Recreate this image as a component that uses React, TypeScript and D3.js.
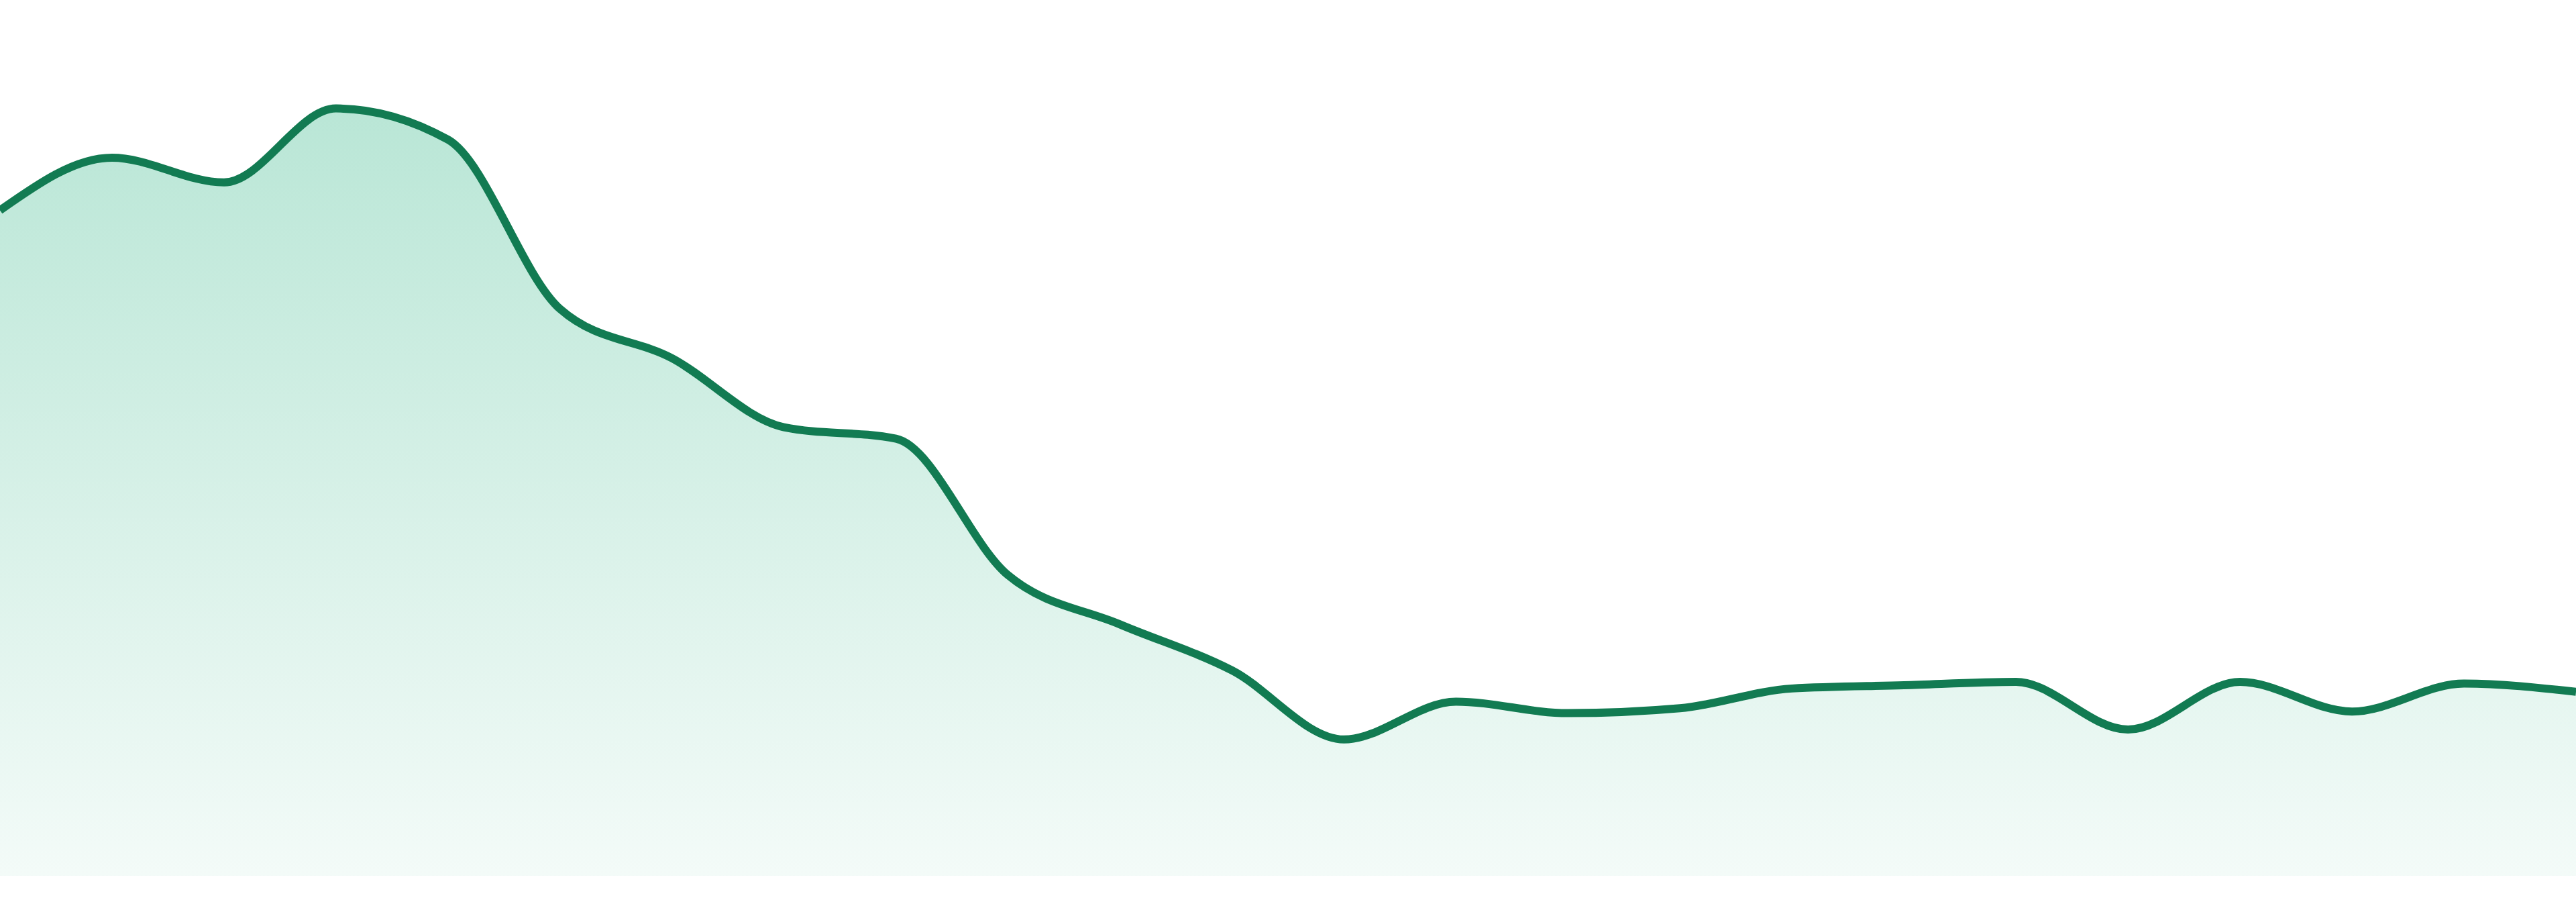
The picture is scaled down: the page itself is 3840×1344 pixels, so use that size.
import * as d3 from 'd3';
import { useEffect, useRef } from 'react';

// one point per period (height above baseline)
const periods = d3.range(24);
const values = [
  405, 437, 422, 467, 448, 345, 315, 273, 266, 183, 153, 125,
  83, 106, 99, 102, 114, 116, 118, 89, 118, 100, 117, 112,
];

const WIDTH = 3840;
const HEIGHT = 1344;

export default function App() {
  const svgRef = useRef<SVGSVGElement | null>(null);

  useEffect(() => {
    document.body.style.margin = '0';

    const svg = d3.select(svgRef.current);
    svg.selectAll('*').remove();

    const baseline = 1305;

    const x = d3.scaleLinear()
      .domain([0, periods.length - 1])
      .range([0, WIDTH]);

    const y = d3.scaleLinear()
      .domain([0, 533])
      .range([baseline, 0]);

    const grad = svg.append('defs').append('linearGradient')
      .attr('id', 'areaFill')
      .attr('x1', 0).attr('y1', 0)
      .attr('x2', 0).attr('y2', 1);
    grad.append('stop').attr('offset', '0%').attr('stop-color', '#16ac76').attr('stop-opacity', 0.3);
    grad.append('stop').attr('offset', '100%').attr('stop-color', '#16ac76').attr('stop-opacity', 0.05);

    const points = periods.map((p, i) => ({ p, v: values[i] }));

    const area = d3.area<{ p: number; v: number }>()
      .x(d => x(d.p))
      .y0(baseline)
      .y1(d => y(d.v))
      .curve(d3.curveMonotoneX);

    const line = d3.line<{ p: number; v: number }>()
      .x(d => x(d.p))
      .y(d => y(d.v))
      .curve(d3.curveMonotoneX);

    svg.append('path')
      .datum(points)
      .attr('fill', 'url(#areaFill)')
      .attr('d', area);

    svg.append('path')
      .datum(points)
      .attr('fill', 'none')
      .attr('stroke', '#127b52')
      .attr('stroke-width', 12)
      .attr('stroke-linejoin', 'round')
      .attr('d', line);
  }, []);

  return (
    <svg
      ref={svgRef}
      width={WIDTH}
      height={HEIGHT}
      style={{ display: 'block', background: '#fff' }}
    />
  );
}
